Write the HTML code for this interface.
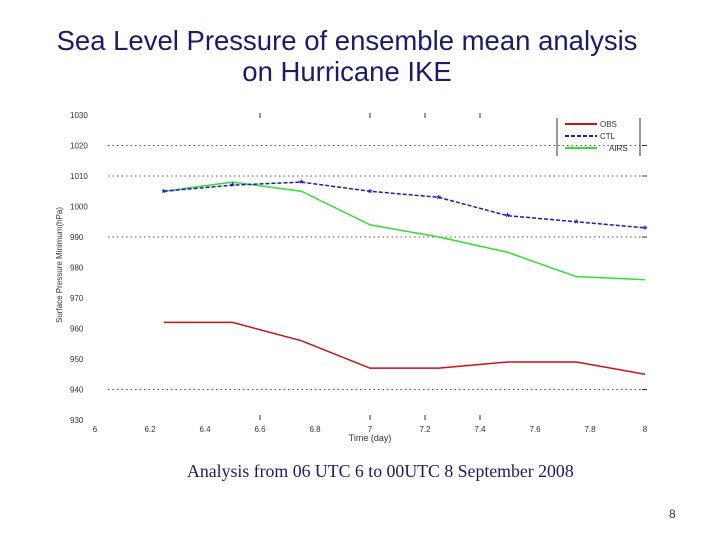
<!DOCTYPE html>
<html><head><meta charset="utf-8"><style>
body{margin:0;width:720px;height:540px;background:#fff;overflow:hidden;font-family:"Liberation Sans",sans-serif}
</style></head><body>
<div style="position:absolute;left:0;top:25px;width:694px;text-align:center;font-size:27.5px;line-height:31px;color:#1a1a6e">Sea Level Pressure of ensemble mean analysis<br>on Hurricane IKE</div>
<svg width="720" height="540" style="position:absolute;left:0;top:0" id="svg"></svg>
<div style="position:absolute;left:187px;top:461px;font-family:'Liberation Serif',serif;font-size:17.8px;color:#1a1a6e">Analysis from 06 UTC 6 to 00UTC 8 September 2008</div>
<div style="position:absolute;left:669px;top:507px;font-size:12px;color:#333">8</div>
<script>
const xTicks=[6,6.2,6.4,6.6,6.8,7,7.2,7.4,7.6,7.8,8];
const xTickLabels=["6","6.2","6.4","6.6","6.8","7","7.2","7.4","7.6","7.8","8"];
const xMarkTicks=[6.6,7,7.2,7.4];
const yTicks=[930,940,950,960,970,980,990,1000,1010,1020,1030];
const times=[6.25,6.5,6.75,7,7.25,7.5,7.75,8];
const obs=[962,962,956,947,947,949,949,945];
const ctl=[1005,1007,1008,1005,1003,997,995,993];
const airs=[1005,1008,1005,994,990,985,977,976];
const gridLines=[940,990,1010,1020];
const X=v=>95+(v-6)*275;
const Y=v=>420-(v-930)*3.05;
const svg=document.getElementById('svg');
const NS='http://www.w3.org/2000/svg';
function mk(t,a){const e=document.createElementNS(NS,t);for(const k in a)e.setAttribute(k,a[k]);svg.appendChild(e);return e;}
gridLines.forEach(g=>{const l=mk('line',{x1:108,x2:645,y1:Y(g),y2:Y(g),stroke:'#555','stroke-width':1,'stroke-dasharray':'1.5,3'});


const k=mk('line',{x1:642,x2:647,y1:Y(g),y2:Y(g),stroke:'#333'});

});
yTicks.forEach(v=>{const t=mk('text',{x:70,y:Y(v)+3,'font-size':8,fill:'#333'});t.textContent=v;

});
xTicks.forEach((v,i)=>{const t=mk('text',{x:X(v),y:432,'font-size':8,fill:'#333','text-anchor':'middle'});t.textContent=xTickLabels[i];

});
xMarkTicks.forEach(v=>{[[113,118],[415,420]].forEach(p=>{const k=mk('line',{x1:X(v),x2:X(v),y1:p[0],y2:p[1],stroke:'#333'});

});});
const xt=mk('text',{x:370,y:441,'font-size':9,fill:'#333','text-anchor':'middle'});xt.textContent='Time (day)';


const yt=mk('text',{x:0,y:0,'font-size':8,fill:'#333','text-anchor':'middle',transform:'translate(62,265) rotate(-90)'});yt.textContent='Surface Pressure Minimum(hPa)';


function series(d,col,dash,name){const p=mk('polyline',{points:d.map((v,i)=>X(times[i])+','+Y(v)).join(' '),fill:'none',stroke:col,'stroke-width':1.5,'stroke-dasharray':dash});

}
series(obs,'#cc1111','', 'obs-line');
series(airs,'#33dd33','', 'airs-line');
series(ctl,'#1a1acc','4,2','ctl-line');
ctl.forEach((v,i)=>{const m=mk('text',{x:X(times[i]),y:Y(v)+5,'font-size':11,'font-weight':'bold',fill:'#1a1acc','text-anchor':'middle'});m.textContent='*';

});
[557,640].forEach(x=>{const l=mk('line',{x1:x,x2:x,y1:118,y2:156,stroke:'#333'});

});
[['OBS','#cc1111','',124],['CTL','#1a1acc','4,2',136],['AIRS','#33dd33','',148]].forEach(e=>{
const l=mk('line',{x1:565,x2:597,y1:e[3],y2:e[3],stroke:e[1],'stroke-width':2,'stroke-dasharray':e[2]});


const t=mk('text',{x:e[0]=='AIRS'?609:600,y:e[3]+3,'font-size':8,fill:'#333'});t.textContent=e[0];

});
</script>
</body></html>
